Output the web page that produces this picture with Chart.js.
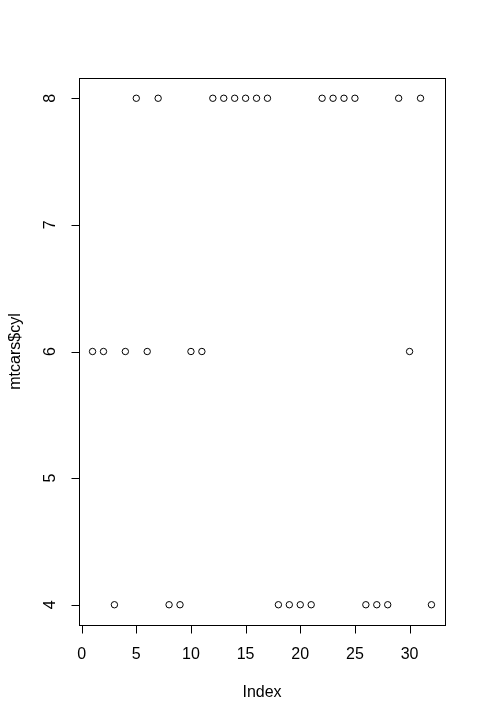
<!DOCTYPE html>
<html>
<head>
<meta charset="utf-8">
<script src="https://cdn.jsdelivr.net/npm/chart.js@4"></script>
<style>
  html, body { margin: 0; padding: 0; background: #fff; }
  #wrap { width: 486px; height: 723px; }
</style>
</head>
<body>
<div id="wrap"><canvas id="mycanvas" width="486" height="723"></canvas></div>
<script>
// mtcars$cyl, plotted against index
var cyl = [6, 6, 4, 6, 8, 6, 8, 4, 4, 6, 6, 8, 8, 8, 8, 8, 8, 4, 4, 4, 4, 8, 8, 8, 8, 4, 4, 4, 8, 6, 8, 4];
var xTicks = [0, 5, 10, 15, 20, 25, 30];
var yTicks = [4, 5, 6, 7, 8];
var xTitle = "Index";
var yTitle = "mtcars$cyl";

var points = [];
for (var i = 0; i < cyl.length; i++) {
    points.push({ x: i + 1, y: cyl[i] });
}

var font = '16px "Liberation Sans", Arial, sans-serif';

// R-style box, ticks and labels drawn from the chart's scales
var rAxes = {
    id: 'rAxes',
    afterDraw: function (chart) {
        var c = chart.ctx, a = chart.chartArea;
        var xs = chart.scales.x, ys = chart.scales.y;
        c.save();
        c.strokeStyle = '#000';
        c.fillStyle = '#000';
        c.lineWidth = 1;
        c.strokeRect(Math.round(a.left) + 0.5, Math.round(a.top) + 0.5,
            Math.round(a.right - a.left), Math.round(a.bottom - a.top));

        c.font = font;
        c.textAlign = 'center';
        c.textBaseline = 'middle';
        var by = Math.round(a.bottom) + 0.5;
        c.beginPath();
        c.moveTo(Math.round(xs.getPixelForValue(xTicks[0])) + 0.5, by);
        c.lineTo(Math.round(xs.getPixelForValue(xTicks[xTicks.length - 1])) + 0.5, by);
        xTicks.forEach(function (t) {
            var px = Math.round(xs.getPixelForValue(t)) + 0.5;
            c.moveTo(px, by);
            c.lineTo(px, by + 8);
        });
        c.stroke();
        xTicks.forEach(function (t) {
            c.fillText(String(t), xs.getPixelForValue(t), a.bottom + 30);
        });

        var lx = Math.round(a.left) + 0.5;
        c.beginPath();
        c.moveTo(lx, Math.round(ys.getPixelForValue(yTicks[0])) + 0.5);
        c.lineTo(lx, Math.round(ys.getPixelForValue(yTicks[yTicks.length - 1])) + 0.5);
        yTicks.forEach(function (t) {
            var py = Math.round(ys.getPixelForValue(t)) + 0.5;
            c.moveTo(lx, py);
            c.lineTo(lx - 8, py);
        });
        c.stroke();
        yTicks.forEach(function (t) {
            c.save();
            c.translate(a.left - 28, ys.getPixelForValue(t));
            c.rotate(-Math.PI / 2);
            c.fillText(String(t), 0, 0);
            c.restore();
        });

        c.fillText(xTitle, (a.left + a.right) / 2, 693);
        c.save();
        c.translate(16, (a.top + a.bottom) / 2);
        c.rotate(-Math.PI / 2);
        c.fillText(yTitle, 0, 0);
        c.restore();
        c.restore();
    }
};

var ctx = document.getElementById('mycanvas');
var scatter = new Chart(ctx, {
    type: 'scatter',
    data: {
        datasets: [{
            label: yTitle,
            data: points,
            pointStyle: 'circle',
            pointRadius: 3.2,
            borderWidth: 1,
            borderColor: '#000',
            backgroundColor: 'rgba(0,0,0,0)'
        }]
    },
    options: {
        responsive: false,
        animation: false,
        layout: { padding: { left: 79, right: 41, top: 78, bottom: 98 } },
        plugins: { legend: { display: false }, tooltip: { enabled: false } },
        scales: {
            x: { type: 'linear', min: -0.24, max: 33.24, display: false },
            y: { type: 'linear', min: 3.84, max: 8.16, display: false }
        }
    },
    plugins: [rAxes]
});
</script>
</body>
</html>
